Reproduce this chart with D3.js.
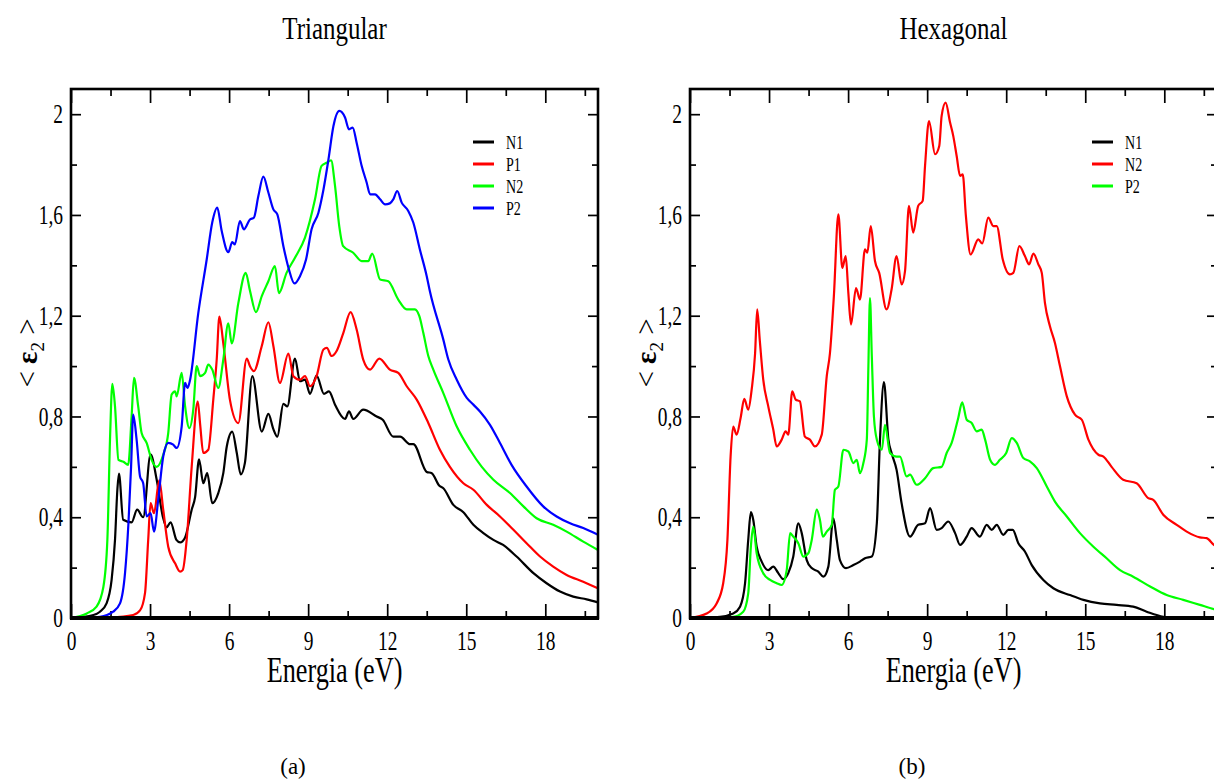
<!DOCTYPE html>
<html>
<head>
<meta charset="utf-8">
<script src="https://cdn.jsdelivr.net/npm/d3@7/dist/d3.min.js"></script>
<style>
body { margin: 0; background: #fff; }
text { font-family: "Liberation Serif", "DejaVu Serif", serif; fill: #000; }
</style>
</head>
<body>
<script>
// valores: [energia (eV), <eps2>]

// (a) Triangular
var triN1 = [[0,0],[0.85,0.012],[1.1,0.025],[1.35,0.058],[1.54,0.15],[1.67,0.31],[1.76,0.51],[1.82,0.573],[1.98,0.39],[2.3,0.38],[2.51,0.43],[2.74,0.40],[3.02,0.65],[3.25,0.55],[3.49,0.40],[3.63,0.36],[3.78,0.38],[4.0,0.31],[4.14,0.30],[4.33,0.32],[4.58,0.43],[4.71,0.48],[4.86,0.63],[5.02,0.535],[5.17,0.575],[5.36,0.456],[5.59,0.496],[5.78,0.575],[5.91,0.68],[6.12,0.74],[6.29,0.656],[6.44,0.57],[6.6,0.616],[6.88,0.96],[7.24,0.74],[7.49,0.81],[7.68,0.75],[7.83,0.72],[8.06,0.85],[8.21,0.84],[8.5,1.03],[8.69,0.94],[8.88,0.946],[9.07,0.89],[9.32,0.962],[9.6,0.89],[9.79,0.90],[10.02,0.847],[10.4,0.79],[10.55,0.82],[10.71,0.79],[11.09,0.827],[11.6,0.80],[11.83,0.787],[12.23,0.72],[12.49,0.72],[12.87,0.69],[12.99,0.69],[13.5,0.58],[13.69,0.575],[13.98,0.525],[14.13,0.515],[14.51,0.449],[14.89,0.42],[15.27,0.37],[15.65,0.337],[16.03,0.31],[16.4,0.29],[16.91,0.244],[17.55,0.178],[18.05,0.138],[18.56,0.105],[19.06,0.085],[19.57,0.074],[20,0.062]]

var triP1 = [[0,0],[1.5,0.003],[2.36,0.012],[2.62,0.03],[2.81,0.1],[2.93,0.31],[3.02,0.456],[3.15,0.416],[3.35,0.546],[3.5,0.43],[3.69,0.283],[3.95,0.217],[4.14,0.184],[4.24,0.19],[4.39,0.31],[4.58,0.60],[4.81,0.86],[4.9,0.77],[5.02,0.655],[5.21,0.668],[5.4,0.867],[5.53,1.026],[5.63,1.196],[5.78,1.09],[6.03,0.867],[6.35,0.774],[6.67,1.03],[6.79,1.0],[6.94,0.98],[7.24,1.08],[7.49,1.174],[7.68,1.08],[7.93,0.933],[8.25,1.05],[8.44,0.96],[8.69,0.946],[8.88,0.96],[9.07,0.92],[9.32,0.96],[9.58,1.066],[9.71,1.072],[9.89,1.04],[10.08,1.06],[10.33,1.13],[10.61,1.214],[10.84,1.145],[11.09,1.026],[11.35,0.986],[11.7,1.03],[12.1,0.986],[12.42,0.973],[12.74,0.92],[13.12,0.867],[13.56,0.774],[14.0,0.668],[14.38,0.60],[14.89,0.535],[15.27,0.509],[15.78,0.449],[16.28,0.403],[16.79,0.35],[17.29,0.297],[17.8,0.244],[18.3,0.204],[18.81,0.171],[19.44,0.144],[20,0.118]]

var triN2 = [[0,0],[0.6,0.018],[0.97,0.045],[1.23,0.124],[1.38,0.31],[1.48,0.708],[1.57,0.93],[1.67,0.84],[1.8,0.628],[1.99,0.62],[2.17,0.608],[2.3,0.80],[2.39,0.953],[2.55,0.84],[2.68,0.734],[2.87,0.695],[3.06,0.628],[3.25,0.60],[3.5,0.648],[3.69,0.734],[3.82,0.887],[3.95,0.90],[4.01,0.88],[4.2,0.973],[4.33,0.84],[4.49,0.754],[4.64,0.827],[4.77,1.0],[4.9,0.96],[5.09,0.973],[5.21,1.006],[5.36,0.986],[5.59,0.913],[5.78,1.026],[5.97,1.17],[6.1,1.09],[6.35,1.25],[6.63,1.37],[6.79,1.30],[7.02,1.214],[7.24,1.278],[7.49,1.337],[7.74,1.397],[7.89,1.29],[8.18,1.37],[8.5,1.43],[8.88,1.51],[9.26,1.662],[9.51,1.795],[9.7,1.807],[9.87,1.817],[10.02,1.715],[10.18,1.556],[10.33,1.476],[10.71,1.45],[11.03,1.417],[11.28,1.417],[11.43,1.447],[11.73,1.344],[12.04,1.337],[12.42,1.264],[12.74,1.225],[13.05,1.225],[13.22,1.198],[13.37,1.132],[13.56,1.04],[13.75,0.986],[14.13,0.893],[14.64,0.76],[15.14,0.668],[15.59,0.60],[16.03,0.549],[16.66,0.496],[17.17,0.443],[17.67,0.396],[18.3,0.37],[18.81,0.343],[19.44,0.303],[20,0.27]]

var triP2 = [[0,0],[1.1,0.005],[1.6,0.025],[1.86,0.058],[2.05,0.178],[2.18,0.376],[2.28,0.60],[2.36,0.807],[2.49,0.708],[2.62,0.562],[2.74,0.535],[2.87,0.403],[3.02,0.416],[3.15,0.343],[3.31,0.47],[3.5,0.641],[3.69,0.695],[3.88,0.688],[4.01,0.675],[4.2,0.76],[4.33,0.933],[4.42,0.913],[4.52,0.946],[4.83,1.21],[5.15,1.423],[5.36,1.57],[5.55,1.629],[5.72,1.536],[5.97,1.452],[6.12,1.492],[6.22,1.483],[6.41,1.576],[6.56,1.543],[6.79,1.582],[6.94,1.589],[7.11,1.675],[7.3,1.752],[7.49,1.689],[7.68,1.622],[7.83,1.602],[8.06,1.476],[8.27,1.384],[8.48,1.328],[8.69,1.357],[8.92,1.423],[9.13,1.543],[9.39,1.609],[9.58,1.70],[9.77,1.82],[9.96,1.953],[10.18,2.013],[10.4,1.987],[10.55,1.94],[10.69,1.947],[10.84,1.887],[11.03,1.795],[11.22,1.729],[11.35,1.682],[11.54,1.682],[11.73,1.662],[11.92,1.642],[12.1,1.646],[12.23,1.662],[12.38,1.695],[12.55,1.649],[12.8,1.616],[12.99,1.57],[13.24,1.463],[13.5,1.357],[13.62,1.297],[14.13,1.105],[14.32,1.026],[14.64,0.946],[15.02,0.874],[15.27,0.847],[15.52,0.82],[15.9,0.767],[16.28,0.695],[16.72,0.608],[17.29,0.522],[17.92,0.443],[18.43,0.403],[18.94,0.376],[19.44,0.357],[20,0.33]]

// (b) Hexagonal
var hexN1 = [[0,0],[1.14,0.005],[1.64,0.018],[1.9,0.045],[2.09,0.138],[2.21,0.31],[2.31,0.42],[2.4,0.39],[2.53,0.283],[2.72,0.224],[2.97,0.19],[3.16,0.204],[3.35,0.178],[3.54,0.154],[3.73,0.178],[3.92,0.244],[4.11,0.376],[4.24,0.337],[4.43,0.23],[4.62,0.198],[4.87,0.184],[5.06,0.164],[5.25,0.204],[5.44,0.396],[5.57,0.31],[5.69,0.23],[5.92,0.198],[6.2,0.21],[6.45,0.224],[6.64,0.237],[6.9,0.244],[7.09,0.376],[7.21,0.708],[7.36,0.936],[7.53,0.708],[7.65,0.655],[7.84,0.588],[8.03,0.456],[8.35,0.323],[8.66,0.37],[8.92,0.376],[9.11,0.436],[9.36,0.35],[9.55,0.357],[9.8,0.383],[10.06,0.337],[10.25,0.29],[10.5,0.323],[10.69,0.357],[11.0,0.323],[11.26,0.37],[11.45,0.35],[11.64,0.37],[11.89,0.33],[12.08,0.35],[12.25,0.35],[12.46,0.297],[12.71,0.264],[12.97,0.21],[13.41,0.151],[13.79,0.118],[14.42,0.091],[14.93,0.072],[15.56,0.058],[16.19,0.052],[16.82,0.045],[17.33,0.025],[17.96,0.005],[18.5,0],[20,0]]

var hexN2 = [[0,0],[0.63,0.018],[1.01,0.058],[1.26,0.138],[1.42,0.31],[1.54,0.64],[1.64,0.76],[1.77,0.728],[1.92,0.794],[2.06,0.87],[2.21,0.827],[2.34,0.907],[2.47,1.05],[2.55,1.225],[2.65,1.1],[2.78,0.946],[2.97,0.84],[3.16,0.748],[3.29,0.681],[3.48,0.708],[3.63,0.741],[3.73,0.728],[3.88,0.90],[4.01,0.867],[4.17,0.86],[4.36,0.72],[4.55,0.708],[4.74,0.681],[5.0,0.728],[5.19,0.96],[5.31,1.05],[5.46,1.278],[5.63,1.602],[5.78,1.39],[5.91,1.437],[6.01,1.29],[6.11,1.165],[6.3,1.31],[6.45,1.264],[6.64,1.463],[6.73,1.45],[6.86,1.556],[7.02,1.417],[7.18,1.37],[7.46,1.225],[7.65,1.304],[7.84,1.437],[8.03,1.324],[8.16,1.377],[8.31,1.636],[8.47,1.53],[8.66,1.636],[8.83,1.656],[8.92,1.795],[9.07,1.973],[9.3,1.841],[9.46,1.874],[9.55,1.993],[9.7,2.046],[9.87,1.967],[9.99,1.914],[10.12,1.834],[10.25,1.755],[10.35,1.761],[10.47,1.596],[10.65,1.443],[10.94,1.503],[11.09,1.487],[11.32,1.589],[11.51,1.556],[11.64,1.556],[11.87,1.423],[12.14,1.364],[12.27,1.37],[12.5,1.476],[12.71,1.437],[12.87,1.404],[13.03,1.447],[13.22,1.404],[13.35,1.37],[13.47,1.251],[13.66,1.158],[13.85,1.092],[14.04,1.0],[14.3,0.88],[14.61,0.807],[14.87,0.787],[15.12,0.708],[15.5,0.648],[15.69,0.641],[16.0,0.60],[16.44,0.549],[16.95,0.535],[17.39,0.476],[17.58,0.469],[17.96,0.41],[18.47,0.37],[18.85,0.343],[19.35,0.32],[19.61,0.317],[19.89,0.29],[20,0.285]]

var hexP2 = [[0,0],[1.64,0.005],[2.02,0.025],[2.21,0.098],[2.31,0.283],[2.4,0.363],[2.53,0.257],[2.78,0.178],[3.04,0.151],[3.29,0.138],[3.48,0.131],[3.67,0.19],[3.8,0.337],[3.92,0.323],[4.11,0.297],[4.3,0.244],[4.49,0.257],[4.62,0.31],[4.81,0.43],[4.93,0.39],[5.04,0.323],[5.19,0.343],[5.38,0.37],[5.5,0.509],[5.63,0.522],[5.82,0.668],[6.01,0.661],[6.2,0.615],[6.33,0.628],[6.45,0.575],[6.58,0.615],[6.71,0.708],[6.77,1.0],[6.83,1.27],[6.9,1.04],[6.98,0.8],[7.09,0.708],[7.28,0.668],[7.4,0.767],[7.59,0.655],[7.84,0.641],[7.97,0.641],[8.22,0.562],[8.35,0.569],[8.6,0.529],[8.92,0.555],[9.23,0.595],[9.55,0.60],[9.74,0.655],[9.93,0.695],[10.18,0.794],[10.33,0.856],[10.5,0.787],[10.69,0.774],[10.88,0.741],[11.07,0.748],[11.2,0.708],[11.39,0.628],[11.57,0.608],[11.76,0.628],[12.0,0.655],[12.21,0.714],[12.4,0.695],[12.65,0.635],[12.9,0.622],[13.16,0.595],[13.54,0.522],[13.85,0.462],[14.3,0.403],[14.8,0.337],[15.31,0.283],[15.81,0.237],[16.32,0.19],[16.82,0.164],[17.46,0.125],[18.09,0.091],[18.72,0.072],[19.35,0.052],[19.89,0.035],[20,0.032]]

var xTicks = [0, 3, 6, 9, 12, 15, 18]
var xMinor = [1.5, 4.5, 7.5, 10.5, 13.5, 16.5, 19.5]
var yTicks = [0, 0.4, 0.8, 1.2, 1.6, 2]
var yMinor = [0.2, 0.6, 1.0, 1.4, 1.8]

var triNames = ["N1", "P1", "N2", "P2"]
var triColors = ["#000000", "#ff0000", "#00ff00", "#0000ff"]
var hexNames = ["N1", "N2", "P2"]
var hexColors = ["#000000", "#ff0000", "#00ff00"]

var svg = d3.select("body")
    .append("svg")
        .attr("width", 1214)
        .attr("height", 782)

// texto estrecho, como el Times de xmgrace
function texto(g, x, y, s, size, sx, anchor) {
    return g.append("text")
        .attr("transform", "translate(" + x + "," + y + ") scale(" + sx + ",1)")
        .attr("text-anchor", anchor || "middle")
        .style("font-size", size + "px")
        .text(s)
}

function panel(left, titulo, series, nombres, colores, letra) {
    var w = 527
    var top = 89, bottom = 618

    var x = d3.scaleLinear().domain([0, 20]).range([left, left + w])
    var y = d3.scaleLinear().domain([0, 2.1]).range([bottom, top])

    var g = svg.append("g")

    var fmt = function(d) { return String(d).replace(".", ",") }

    // EJE X abajo y arriba (ticks hacia dentro)
    var ax = g.append("g")
        .attr("transform", "translate(0," + bottom + ")")
        .call(d3.axisBottom(x).tickValues(xTicks).tickSize(-14).tickSizeOuter(0).tickPadding(13).tickFormat(fmt))
    ax.selectAll("text")
        .attr("transform", "scale(0.72,1)")
        .style("font-size", "27px")
    g.append("g")
        .attr("transform", "translate(0," + bottom + ")")
        .call(d3.axisBottom(x).tickValues(xMinor).tickSize(-7).tickSizeOuter(0).tickFormat(""))
    g.append("g")
        .attr("transform", "translate(0," + top + ")")
        .call(d3.axisTop(x).tickValues(xTicks).tickSize(-14).tickSizeOuter(0).tickFormat(""))
    g.append("g")
        .attr("transform", "translate(0," + top + ")")
        .call(d3.axisTop(x).tickValues(xMinor).tickSize(-7).tickSizeOuter(0).tickFormat(""))

    // EJE Y izquierda y derecha
    var ay = g.append("g")
        .attr("transform", "translate(" + left + ",0)")
        .call(d3.axisLeft(y).tickValues(yTicks).tickSize(-10).tickSizeOuter(0).tickPadding(11).tickFormat(fmt))
    ay.selectAll("text")
        .attr("transform", "scale(0.72,1)")
        .style("font-size", "27px")
    g.append("g")
        .attr("transform", "translate(" + left + ",0)")
        .call(d3.axisLeft(y).tickValues(yMinor).tickSize(-6).tickSizeOuter(0).tickFormat(""))
    g.append("g")
        .attr("transform", "translate(" + (left + w) + ",0)")
        .call(d3.axisRight(y).tickValues(yTicks).tickSize(-10).tickSizeOuter(0).tickFormat(""))
    g.append("g")
        .attr("transform", "translate(" + (left + w) + ",0)")
        .call(d3.axisRight(y).tickValues(yMinor).tickSize(-6).tickSizeOuter(0).tickFormat(""))

    g.selectAll(".domain").remove()
    g.selectAll(".tick line").attr("stroke", "#000").attr("stroke-width", 1.7)

    // curvas
    var linea = d3.line()
        .x(d => x(d[0]))
        .y(d => y(d[1]))
        .curve(d3.curveMonotoneX)

    series.forEach(function(s, i) {
        g.append("path")
            .datum(s)
            .attr("fill", "none")
            .attr("stroke", colores[i])
            .attr("stroke-width", 2.2)
            .attr("stroke-linejoin", "round")
            .attr("d", linea)
    })

    // marco
    g.append("rect")
        .attr("x", left)
        .attr("y", top)
        .attr("width", w)
        .attr("height", bottom - top)
        .attr("fill", "none")
        .attr("stroke", "#000")
        .attr("stroke-width", 2.6)
    g.append("line")
        .attr("x1", left - 1).attr("x2", left + w + 1)
        .attr("y1", bottom).attr("y2", bottom)
        .attr("stroke", "#000")
        .attr("stroke-width", 4)

    // leyenda
    var lx = left + 402
    nombres.forEach(function(n, i) {
        var ly = 142 + i * 22
        g.append("line")
            .attr("x1", lx).attr("x2", lx + 21)
            .attr("y1", ly).attr("y2", ly)
            .attr("stroke", colores[i])
            .attr("stroke-width", 3)
        texto(g, lx + 33, ly + 6.5, n, 19, 0.74, "start")
    })

    // textos
    texto(g, left + w / 2, 39, titulo, 32, 0.78)
    texto(g, left + w / 2, 682, "Energia (eV)", 35, 0.75)

    var yl = g.append("text")
        .attr("transform", "translate(" + (left - 34) + ",353) rotate(-90)")
        .attr("text-anchor", "middle")
        .style("font-size", "29px")
    yl.append("tspan").text("< ")
    yl.append("tspan").text("ε").style("font-weight", "bold")
    yl.append("tspan").text("2").attr("dy", 7).style("font-size", "19px")
    yl.append("tspan").text(" >").attr("dy", -7)

    g.append("text")
        .attr("x", left + 222)
        .attr("y", 774)
        .attr("text-anchor", "middle")
        .style("font-size", "23px")
        .text(letra)
}

panel(71, "Triangular", [triN1, triP1, triN2, triP2], triNames, triColors, "(a)")
panel(690, "Hexagonal", [hexN1, hexN2, hexP2], hexNames, hexColors, "(b)")
</script>
</body>
</html>
